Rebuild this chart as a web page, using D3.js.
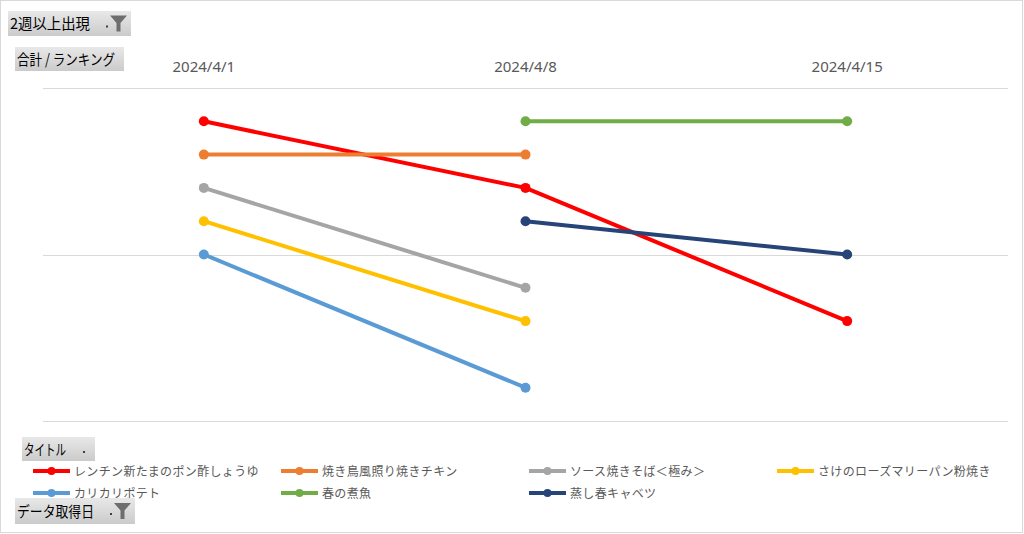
<!DOCTYPE html>
<html>
<head>
<meta charset="utf-8">
<script src="https://cdn.jsdelivr.net/npm/d3@7"></script>
<style>
  html, body { margin: 0; padding: 0; background: #fff; }
  svg { display: block; font-family: "Noto Sans CJK JP", "Noto Sans", sans-serif; }
</style>
</head>
<body>
<svg width="1024" height="534"></svg>
<script>
// data (rank per week, null = not listed)
var dates = ["2024/4/1", "2024/4/8", "2024/4/15"];
var titles = ["レンチン新たまのポン酢しょうゆ", "焼き鳥風照り焼きチキン", "ソース焼きそば＜極み＞",
              "さけのローズマリーパン粉焼き", "カリカリポテト", "春の煮魚", "蒸し春キャベツ"];
var ranks = [
  [1, 3, 7],
  [2, 2, null],
  [3, 6, null],
  [4, 7, null],
  [5, 9, null],
  [null, 1, 1],
  [null, 4, 5]
];
var colors = ["#ff0000", "#ed7d31", "#a5a5a5", "#ffc000", "#5b9bd5", "#70ad47", "#264478"];
var gridTicks = [0, 5, 10];

var svg = d3.select("svg");

var defs = svg.append("defs");
var grad = defs.append("linearGradient").attr("id", "btn").attr("x1", 0).attr("y1", 0).attr("x2", 0).attr("y2", 1);
grad.append("stop").attr("offset", "0%").attr("stop-color", "#e8e8e8");
grad.append("stop").attr("offset", "100%").attr("stop-color", "#cbcbcb");

// outer frame
svg.append("rect").attr("x", 0.5).attr("y", 0.5).attr("width", 1022).attr("height", 532)
    .attr("fill", "#fff").attr("stroke", "#d9d9d9");

var x = d3.scaleBand().domain(dates).range([43, 1008]);
var y = d3.scaleLinear().domain([0, 10]).range([88, 421]);

// gridlines
svg.append("g").selectAll("line").data(gridTicks).enter().append("line")
    .attr("x1", 43).attr("x2", 1008)
    .attr("y1", function(d) { return Math.round(y(d)) + 0.5; })
    .attr("y2", function(d) { return Math.round(y(d)) + 0.5; })
    .attr("stroke", "#d9d9d9").attr("stroke-width", 1);

// category labels on top
var xAxis = svg.append("g").attr("transform", "translate(0,72)")
    .call(d3.axisTop(x).tickSize(0).tickPadding(0));
xAxis.select(".domain").remove();
xAxis.selectAll("text").attr("fill", "#595959").style("font-size", "15px")
    .style("font-family", "'Noto Sans', 'Noto Sans CJK JP', sans-serif");

var cx = function(i) { return x(dates[i]) + x.bandwidth() / 2; };

var line = d3.line()
    .defined(function(d) { return d != null; })
    .x(function(d, i) { return cx(i); })
    .y(function(d) { return y(d); });

var series = svg.append("g").selectAll("g").data(ranks).enter().append("g");

series.append("path")
    .attr("d", function(d) { return line(d); })
    .attr("fill", "none")
    .attr("stroke", function(d, i) { return colors[i]; })
    .attr("stroke-width", 4)
    .attr("stroke-linejoin", "round");

series.each(function(d, s) {
  d3.select(this).selectAll("circle")
    .data(d.map(function(v, i) { return {v: v, i: i}; }).filter(function(p) { return p.v != null; }))
    .enter().append("circle")
    .attr("cx", function(p) { return cx(p.i); })
    .attr("cy", function(p) { return y(p.v); })
    .attr("r", 5)
    .attr("fill", colors[s]);
});

// legend
var legend = svg.append("g").selectAll("g").data(titles).enter().append("g")
    .attr("transform", function(d, i) {
      return "translate(" + (33 + (i % 4) * 248) + "," + (471 + Math.floor(i / 4) * 22) + ")";
    });
legend.append("line").attr("x1", 0).attr("x2", 37).attr("y1", 0).attr("y2", 0)
    .attr("stroke", function(d, i) { return colors[i]; }).attr("stroke-width", 4);
legend.append("circle").attr("cx", 18.5).attr("cy", 0).attr("r", 4)
    .attr("fill", function(d, i) { return colors[i]; });
legend.append("text").attr("x", 41).attr("y", 4.5)
    .attr("fill", "#595959").style("font-size", "12px").style("letter-spacing", "0.35px")
    .text(function(d) { return d; });

// pivot field buttons
var buttons = [
  {label: "2週以上出現", x: 8, y: 11, w: 123, h: 25, tw: 80, filter: true},
  {label: "合計 / ランキング", x: 15, y: 47, w: 109, h: 24, tw: 98},
  {label: "タイトル", x: 22, y: 437, w: 73, h: 24, tw: 42, arrow: true},
  {label: "データ取得日", x: 15, y: 498, w: 120, h: 26, tw: 77, filter: true}
];
var btn = svg.append("g").selectAll("g").data(buttons).enter().append("g")
    .attr("transform", function(d) { return "translate(" + d.x + "," + d.y + ")"; });
btn.append("rect").attr("width", function(d) { return d.w; }).attr("height", function(d) { return d.h; })
    .attr("fill", "url(#btn)");
btn.append("text").attr("x", 2).attr("y", function(d) { return d.h / 2 + 5.5; })
    .attr("fill", "#000").style("font-size", "15px")
    .attr("textLength", function(d) { return d.tw; })
    .attr("lengthAdjust", "spacingAndGlyphs")
    .text(function(d) { return d.label; });
// small drop dot
btn.filter(function(d) { return d.filter || d.arrow; }).append("rect")
    .attr("x", function(d) { return d.filter ? d.w - 25 : d.w - 12; })
    .attr("y", function(d) { return d.h / 2 + 2; })
    .attr("width", 2).attr("height", 2).attr("fill", "#404040");
// funnel icon
btn.filter(function(d) { return d.filter; }).append("path")
    .attr("d", function(d) {
      var x0 = d.w - 21, y0 = d.h / 2 - 8;
      return "M" + x0 + "," + y0 + "h17l-6.5,7.5v8.5h-4v-8.5z";
    })
    .attr("fill", "#6e6e6e");
</script>
</body>
</html>
